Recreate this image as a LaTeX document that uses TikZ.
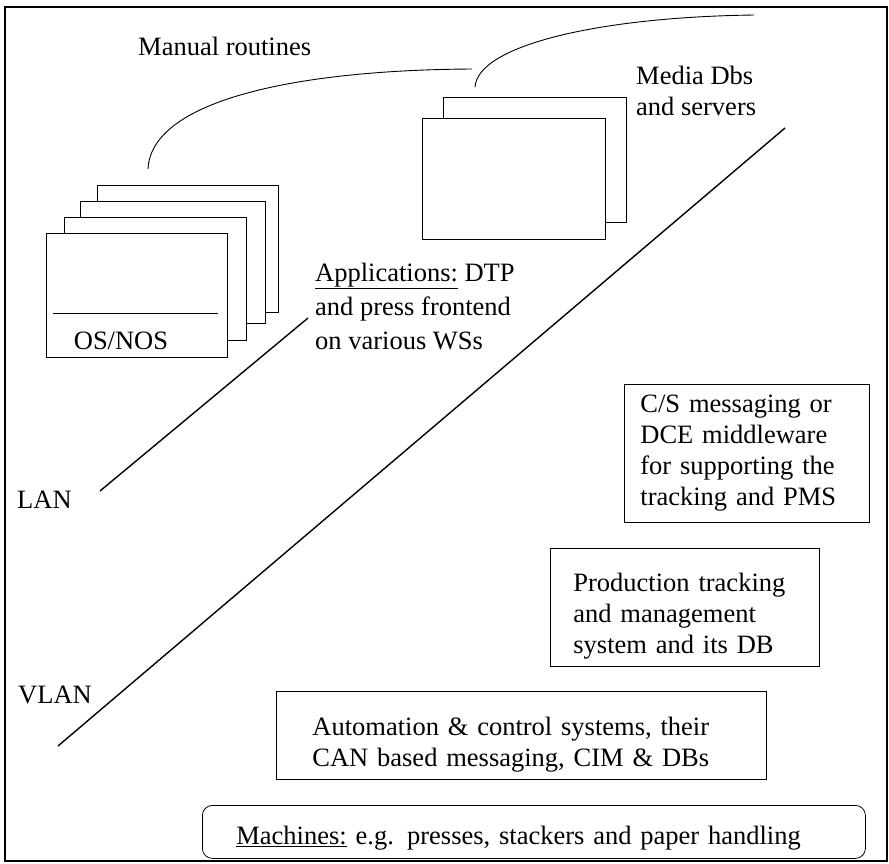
\documentclass[tikz,border=0pt]{standalone}
\usepackage{fontspec}
\setmainfont{Liberation Serif}
\newcommand{\lift}[1]{\rule{0pt}{#1}}
\begin{document}
\begin{tikzpicture}[x=1pt,y=-1pt,
  every node/.style={font=\fontsize{26.5}{31}\selectfont, inner sep=0pt},
  frame/.style={draw, line width=1.2pt},
  page/.style={draw, fill=white, line width=0.8pt, anchor=north west},
  net/.style={line width=1.4pt},
  link/.style={line width=0.9pt},
  textbox/.style={draw, line width=0.8pt, anchor=north west, align=left},
  label/.style={anchor=base west}
]
\useasboundingbox (0,0) rectangle (889,863);
\draw[frame] (5,7) rectangle (887,861);

% Manual routines
\node[label] (manual) at (138,55) {Manual routines};

% stack of workstation pages
\node[page, minimum width=181, minimum height=127] (s4) at (97,185) {};
\node[page, minimum width=185, minimum height=122] (s3) at (80,201) {};
\node[page, minimum width=182, minimum height=123] (s2) at (64,217) {};
\node[page, minimum width=181, minimum height=124] (s1) at (46,233) {};
\coordinate (osl) at (53,313);
\coordinate (osr) at (218,313);
\draw[line width=0.8pt] (osl) -- (osr);
\node[anchor=base] (os) at (121,349) {OS/NOS};

% media servers
\node[page, minimum width=183, minimum height=125] (m2) at (443,97) {};
\node[page, minimum width=183, minimum height=121] (m1) at (422,118) {};
\node[anchor=north west, align=left] (media) at (636,66) {Media Dbs\\and servers};

% curves for manual routines
\coordinate (ca) at (148,169);
\coordinate (cb) at (472,69);
\coordinate (cc) at (475,87);
\coordinate (cd) at (754,15);
\draw[link] (ca) .. controls (151,102) and (290,70) .. (cb);
\draw[link] (cc) .. controls (478,45) and (600,17) .. (cd);

% applications text
\node[anchor=north west, align=left, font=\fontsize{26.5}{34}\selectfont] (apps) at (315,263)
  {\underline{Applications:} DTP\\and press frontend\\on various WSs};

% network lines
\coordinate (lan1) at (100,491);
\coordinate (lan2) at (308,318);
\draw[net] (lan1) -- (lan2);
\coordinate (vlan1) at (58,746);
\coordinate (vlan2) at (785,128);
\draw[net] (vlan1) -- (vlan2);
\node[label] (lan) at (17,508.5) {LAN};
\node[label] (vlan) at (18,703.5) {VLAN};

% right side boxes
\node[textbox, minimum width=245, minimum height=138, text width=213, inner xsep=16] (cs) at (624,384)
  {C/S messaging or\\DCE middleware\\for supporting the\\tracking and PMS};
\node[textbox, minimum width=269, minimum height=118, text width=223, inner xsep=23] (pms) at (550,548)
  {\lift{36pt}Production tracking\\and management\\system and its DB};
\node[textbox, minimum width=490, minimum height=88, text width=418, inner xsep=36] (auto) at (276,691)
  {\lift{36pt}Automation \& control systems, their\\CAN based messaging, CIM \& DBs};
\node[textbox, rounded corners=10pt, minimum width=663, minimum height=53, text width=595, inner xsep=34] (mach) at (202,805)
  {\lift{30pt}\underline{Machines:} e.g. presses, stackers and paper handling};
\end{tikzpicture}
\end{document}
